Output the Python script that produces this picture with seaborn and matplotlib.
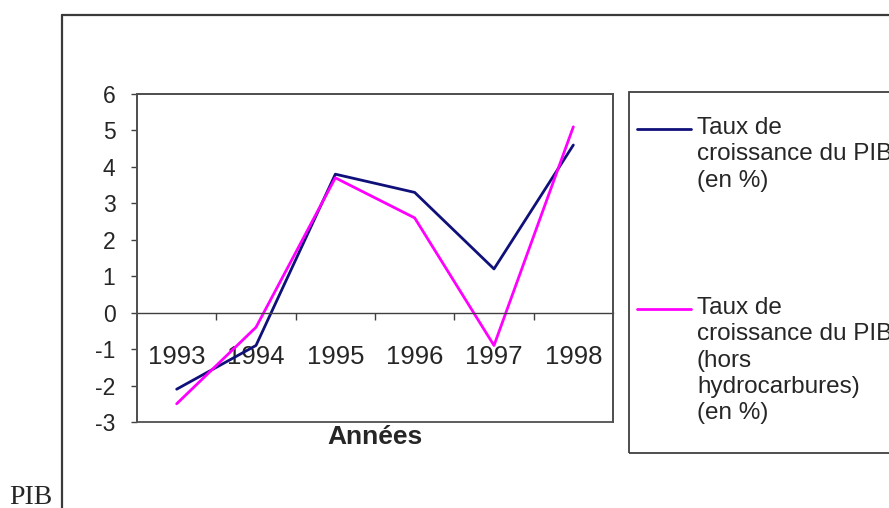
import matplotlib
matplotlib.use("Agg")
import matplotlib.pyplot as plt
import matplotlib.patches as patches
from matplotlib.lines import Line2D
import seaborn as sns
import pandas as pd

# Données
annees = ["1993", "1994", "1995", "1996", "1997", "1998"]
pib_total = [-2.1, -0.9, 3.8, 3.3, 1.2, 4.6]
pib_hors_hydro = [-2.5, -0.4, 3.7, 2.6, -0.9, 5.1]
labels = ["Taux de\ncroissance du PIB\n(en %)",
          "Taux de\ncroissance du PIB\n(hors\nhydrocarbures)\n(en %)"]
couleurs = ["#10107a", "#ff00ff"]

df = pd.DataFrame({
    "annee": annees * 2,
    "taux": pib_total + pib_hors_hydro,
    "serie": [labels[0]] * len(annees) + [labels[1]] * len(annees),
})

sns.set_style("white")
plt.rcParams["font.family"] = ["Liberation Sans", "DejaVu Sans"]
plt.rcParams["axes.unicode_minus"] = False

W, H = 889, 508
fig = plt.figure(figsize=(W / 100, H / 100), dpi=100)

# zone de tracé (pixels : gauche 137, droite 613, haut 94, bas 422)
ax = fig.add_axes([137 / W, (H - 422) / H, 476 / W, 328 / H])
sns.lineplot(data=df, x="annee", y="taux", hue="serie", palette=couleurs,
             lw=2.0, legend=False, sort=False, ax=ax)

ax.set_xlim(-0.5, 5.5)
ax.set_ylim(-3, 6)
ax.set_yticks(range(-3, 7))
ax.set_xlabel("")
ax.set_ylabel("")

# cadre de la zone de tracé
for s in ["top", "right", "left"]:
    ax.spines[s].set_color("#505050")
    ax.spines[s].set_linewidth(1.3)
ax.add_patch(patches.Rectangle((0, 0), 1, 1, transform=ax.transAxes, fill=False,
                               ec="#505050", lw=1.3, clip_on=False, zorder=5))

# axe des abscisses sur la ligne zéro
ax.spines["bottom"].set_position(("data", 0))
ax.spines["bottom"].set_color("#404040")
ax.spines["bottom"].set_linewidth(1.0)
ax.set_xticks(range(len(annees)))
ax.set_xticklabels(annees)
ax.set_xticks([i + 0.5 for i in range(len(annees) - 1)], minor=True)
ax.tick_params(axis="x", which="major", length=0, pad=23, labelsize=18.5)
ax.tick_params(axis="x", which="minor", bottom=True, direction="out",
               length=5, width=1.0, color="#404040")
ax.tick_params(axis="y", left=True, direction="out", length=4.5, width=1.0,
               color="#404040", pad=11, labelsize=16.5)

ax.text(0.5, -0.045, "Années", transform=ax.transAxes, ha="center", va="center",
        fontsize=19, fontweight="bold")

# cadre extérieur du graphique (coupé à droite et en bas)
fig.add_artist(Line2D([62 / W, 62 / W], [0, 1 - 15 / H], color="#3a3a3a", lw=1.6))
fig.add_artist(Line2D([62 / W, 1], [1 - 15 / H, 1 - 15 / H], color="#3a3a3a", lw=1.6))

# légende (coupée au bord droit comme sur l'original)
fig.add_artist(patches.Rectangle((629 / W, 1 - 453 / H), 1, (453 - 92) / H,
                                 transform=fig.transFigure, fill=False,
                                 ec="#404040", lw=1.3))
for lab, c, yc in zip(labels, couleurs, [129, 309]):
    y = 1 - yc / H
    fig.add_artist(Line2D([637 / W, 691 / W], [y, y], color=c, lw=2.0))
    fig.text(697 / W, 1 - (yc - 12) / H, lab, ha="left", va="top",
             fontsize=17.5, linespacing=1.25)

fig.text(9 / W, 4 / H, "PIB", ha="left", va="baseline", fontsize=20,
         family=["Liberation Serif", "DejaVu Serif"])

fig.savefig("out.png", dpi=100)
